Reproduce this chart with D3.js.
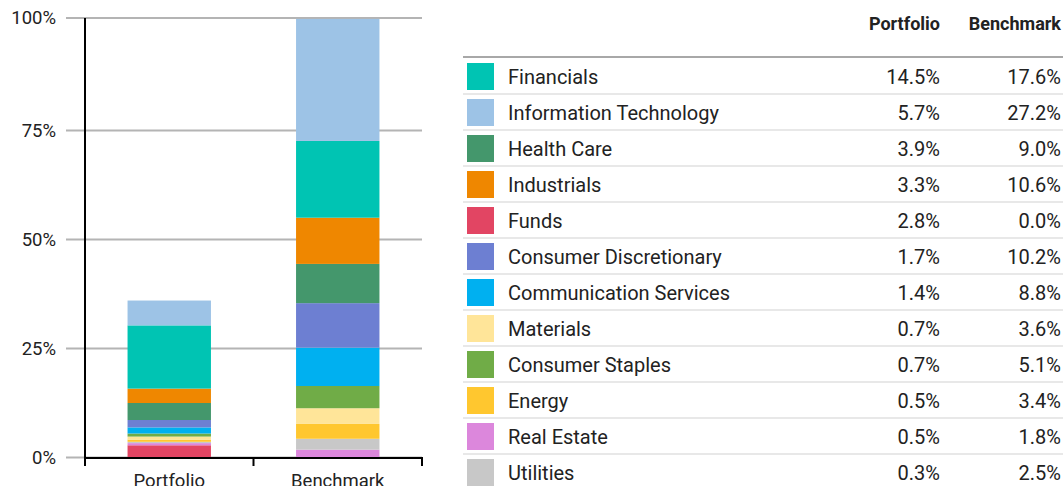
<!DOCTYPE html>
<html><head><meta charset="utf-8">
<script src="https://cdn.jsdelivr.net/npm/d3@7"></script>
<style>
body{margin:0;background:#fff;font-family:Roboto,"Noto Sans",sans-serif;}
svg{display:block;}
</style></head>
<body><svg id="c" width="1063" height="486"></svg>
<script>
const sectors = ["Financials","Information Technology","Health Care","Industrials","Funds","Consumer Discretionary","Communication Services","Materials","Consumer Staples","Energy","Real Estate","Utilities"];
const portfolio = [14.5,5.7,3.9,3.3,2.8,1.7,1.4,0.7,0.7,0.5,0.5,0.3];
const benchmark = [17.6,27.2,9.0,10.6,0.0,10.2,8.8,3.6,5.1,3.4,1.8,2.5];
const colors = ["#00c4b3","#9dc3e6","#44976c","#ef8700","#e24563","#6d7fd2","#00b0f0","#ffe599","#70ac47","#ffc72f","#dc87dc","#c8c8c8"];
const stackOrder = ["Funds","Real Estate","Utilities","Energy","Materials","Consumer Staples","Communication Services","Consumer Discretionary","Health Care","Industrials","Financials","Information Technology"];
const groups = ["Portfolio","Benchmark"];
const yTicks = [0,25,50,75,100];

const svg = d3.select("#c");
const x = d3.scaleBand().domain(groups).range([85,422]).paddingInner(0).paddingOuter(0);
const y = d3.scaleLinear().domain([0,75,100]).range([457.5,130.5,18]);
const color = d3.scaleOrdinal().domain(sectors).range(colors);

// gridlines
svg.append("g").selectAll("line").data(yTicks).join("line")
  .attr("x1",66).attr("x2",422).attr("y1",d=>y(d)).attr("y2",d=>y(d))
  .attr("stroke","#b4b4b4").attr("stroke-width",2);
svg.append("g").selectAll("text").data(yTicks).join("text")
  .attr("x",56).attr("y",d=>y(d)).attr("dy","0.35em").attr("text-anchor","end")
  .attr("font-size",18.5).attr("fill","#222").text(d=>d+"%");

// stacks
const rows = groups.map((g,gi)=>{
  const o={group:g};
  sectors.forEach((s,i)=>o[s]=(gi===0?portfolio:benchmark)[i]);
  return o;
});
const series = d3.stack().keys(stackOrder)(rows);
const bw = x.bandwidth()*0.495;
svg.append("g").selectAll("g").data(series).join("g")
  .attr("fill",d=>color(d.key))
  .selectAll("rect").data(d=>d).join("rect")
  .attr("x",d=>x(d.data.group)+(x.bandwidth()-bw)/2)
  .attr("width",bw)
  .attr("y",d=>y(d[1])).attr("height",d=>Math.max(0,y(d[0])-y(d[1])));

// axes
svg.append("line").attr("x1",85).attr("x2",85).attr("y1",18).attr("y2",458).attr("stroke","#000").attr("stroke-width",2);
svg.append("line").attr("x1",85).attr("x2",423).attr("y1",458).attr("y2",458).attr("stroke","#000").attr("stroke-width",2);
const bounds=[x.range()[0], x("Benchmark"), x.range()[1]];
svg.append("g").selectAll("line").data(bounds).join("line")
  .attr("x1",d=>d).attr("x2",d=>d).attr("y1",458).attr("y2",466).attr("stroke","#000").attr("stroke-width",2);
svg.append("g").selectAll("text").data(groups).join("text")
  .attr("x",d=>x(d)+x.bandwidth()/2).attr("y",487).attr("text-anchor","middle")
  .attr("font-size",18.5).attr("fill","#222").text(d=>d);

// table
const tx0=463, tx1=1063, colP=940, colB=1061;
svg.append("text").attr("x",colP).attr("y",24).attr("dy","0.35em").attr("text-anchor","end")
  .attr("font-size",18).attr("font-weight","bold").attr("fill","#222").text("Portfolio");
svg.append("text").attr("x",colB).attr("y",24).attr("dy","0.35em").attr("text-anchor","end")
  .attr("font-size",18).attr("font-weight","bold").attr("fill","#222").text("Benchmark");
svg.append("line").attr("x1",tx0).attr("x2",tx1).attr("y1",57).attr("y2",57).attr("stroke","#a8a8a8").attr("stroke-width",2);
const ry = d3.scaleBand().domain(sectors).range([59,59+36*12]);
const row = svg.append("g").selectAll("g").data(sectors).join("g")
  .attr("transform",d=>`translate(0,${ry(d)})`);
row.append("rect").attr("x",467).attr("y",4).attr("width",27).attr("height",27).attr("fill",d=>color(d));
row.append("text").attr("x",508).attr("y",18).attr("dy","0.35em").attr("font-size",20).attr("fill","#222").text(d=>d);
row.append("text").attr("x",colP).attr("y",18).attr("dy","0.35em").attr("text-anchor","end").attr("font-size",20).attr("fill","#222")
  .text((d,i)=>portfolio[i].toFixed(1)+"%");
row.append("text").attr("x",colB).attr("y",18).attr("dy","0.35em").attr("text-anchor","end").attr("font-size",20).attr("fill","#222")
  .text((d,i)=>benchmark[i].toFixed(1)+"%");
row.filter((d,i)=>i<sectors.length-1).append("line").attr("x1",tx0).attr("x2",tx1).attr("y1",35).attr("y2",35)
  .attr("stroke","#e8e8e8").attr("stroke-width",2);
</script></body></html>
